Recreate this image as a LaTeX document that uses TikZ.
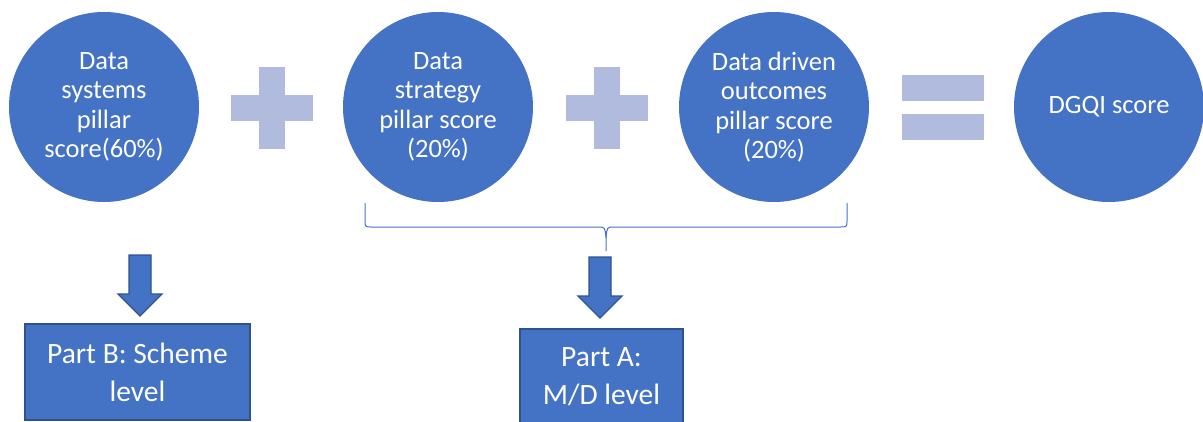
\documentclass[tikz,border=0pt]{standalone}
\usepackage{fontspec}
\setmainfont{Carlito}
\usepackage{tikz}

\definecolor{pillarblue}{HTML}{4472C4}
\definecolor{edgeblue}{HTML}{2F528F}
\definecolor{signblue}{HTML}{B0BBDE}

\tikzset{
  pillar/.style={circle,fill=pillarblue,minimum size=190pt,inner sep=0pt,
    text=white,align=center,font=\fontsize{26.5}{29.5}\selectfont},
  partbox/.style={draw=edgeblue,line width=1.5pt,fill=pillarblue,inner sep=0pt,
    text=white,align=center,font=\fontsize{29.5}{38}\selectfont},
  sign/.style={fill=signblue},
  downarrow/.pic={
    \filldraw[fill=pillarblue,draw=edgeblue,line width=1.2pt]
      (-11,0) -- (11,0) -- (11,39) -- (22,39) -- (0,61) -- (-22,39) -- (-11,39) -- cycle;
  }
}

\begin{document}
\begin{tikzpicture}[x=1pt,y=-1pt]
  \useasboundingbox (0,0) rectangle (1203,421);

  \node[pillar] (systems)  at (104,107)  {Data\\systems\\pillar\\score(60\%)};
  \node[pillar] (strategy) at (438,107)  {Data\\strategy\\pillar score\\(20\%)};
  \node[pillar] (outcomes) at (774,107)  {Data driven\\outcomes\\pillar score\\(20\%)};
  \node[pillar] (dgqi)     at (1109,107) {DGQI score};

  \fill[sign] (259,67) rectangle (285,149);
  \fill[sign] (231,95) rectangle (313,121);
  \fill[sign] (594,67) rectangle (620,149);
  \fill[sign] (566,95) rectangle (648,121);
  \fill[sign] (902,75) rectangle (984,101);
  \fill[sign] (902,114) rectangle (984,140);

  \coordinate (braceL) at (365,203);
  \coordinate (braceR) at (847,203);
  \coordinate (braceTip) at (606,251);
  \draw[pillarblue,line width=1pt]
    (braceL) -- (365,220) .. controls (365,227) .. (372,227) -- (598,227)
    .. controls (605,227) .. (606,238) -- (braceTip);
  \draw[pillarblue,line width=1pt]
    (braceR) -- (847,220) .. controls (847,227) .. (840,227) -- (614,227)
    .. controls (607,227) .. (606,238);

  \pic at (140,255) {downarrow};
  \pic at (600,257) {downarrow};

  \node[partbox,minimum width=225pt,minimum height=96pt] (partB) at (137.5,372) {Part B: Scheme\\level};
  \node[partbox,minimum width=163pt,minimum height=96pt] (partA) at (601.5,377) {Part A:\\M/D level};
\end{tikzpicture}
\end{document}
